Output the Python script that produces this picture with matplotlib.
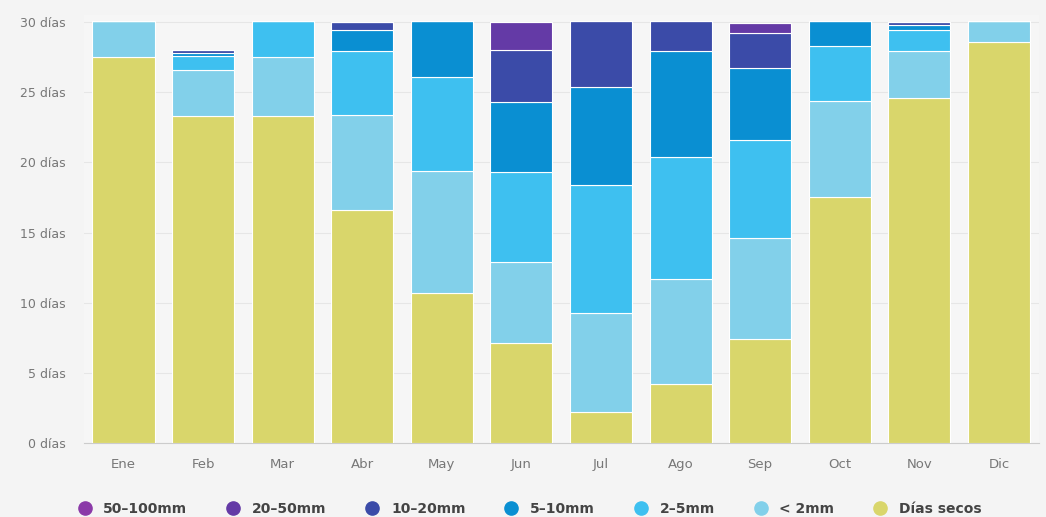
import matplotlib.pyplot as plt
import numpy as np
from matplotlib.lines import Line2D

meses = ['Ene', 'Feb', 'Mar', 'Abr', 'May', 'Jun', 'Jul', 'Ago', 'Sep', 'Oct', 'Nov', 'Dic']

# días por mes en cada clase de precipitación (de abajo a arriba)
dias_secos = [27.5, 23.3, 23.3, 16.6, 10.7, 7.1, 2.2, 4.2, 7.4, 17.5, 24.6, 28.6]
menos_2mm = [2.6, 3.3, 4.2, 6.8, 8.7, 5.8, 7.1, 7.5, 7.2, 6.9, 3.3, 1.5]
mm_2_5 = [0.0, 1.0, 2.6, 4.5, 6.7, 6.4, 9.1, 8.7, 7.0, 3.9, 1.5, 0.0]
mm_5_10 = [0.0, 0.2, 0.0, 1.5, 4.0, 5.0, 7.0, 7.5, 5.1, 1.8, 0.4, 0.0]
mm_10_20 = [0.0, 0.2, 0.0, 0.6, 0.0, 3.7, 4.7, 2.2, 2.5, 0.0, 0.2, 0.0]
mm_20_50 = [0.0, 0.0, 0.0, 0.0, 0.0, 2.0, 0.0, 0.0, 0.7, 0.0, 0.0, 0.0]
mm_50_100 = [0.0, 0.0, 0.0, 0.0, 0.0, 0.0, 0.0, 0.0, 0.0, 0.0, 0.0, 0.0]

series = [
    ('Días secos', dias_secos, '#d9d66b'),
    ('< 2mm', menos_2mm, '#82d0ea'),
    ('2–5mm', mm_2_5, '#3ec0f0'),
    ('5–10mm', mm_5_10, '#0a8fd2'),
    ('10–20mm', mm_10_20, '#3b4ba8'),
    ('20–50mm', mm_20_50, '#643aa6'),
    ('50–100mm', mm_50_100, '#8b3aa8'),
]

fig = plt.figure(figsize=(10.46, 5.17), dpi=100, facecolor='#f4f4f4')
ax = fig.add_axes([0.080, 0.143, 0.913, 0.828])
ax.set_facecolor('#f6f6f6')

x = np.arange(len(meses))
bottom = np.zeros(len(meses))
for nombre, valores, color in series:
    ax.bar(x, valores, bottom=bottom, width=0.78, color=color,
           edgecolor='white', linewidth=0.8, zorder=3)
    bottom += np.array(valores)

ax.set_xlim(-0.5, len(meses) - 0.5)
ax.set_ylim(0, 30.5)
ax.set_yticks(range(0, 31, 5))
ax.set_yticklabels([f'{v} días' for v in range(0, 31, 5)], color='#777777', fontsize=9)
ax.set_xticks(x)
ax.set_xticklabels(meses, color='#777777', fontsize=9.5)
ax.tick_params(axis='y', length=0, pad=13)
ax.tick_params(axis='x', length=0, pad=11)
ax.yaxis.grid(True, color='#e6e6e6', linewidth=0.8, zorder=0)

for lado in ['top', 'right', 'left']:
    ax.spines[lado].set_visible(False)
ax.spines['bottom'].set_color('#cccccc')

# leyenda con marcadores circulares, de mayor a menor intensidad
handles = [Line2D([0], [0], marker='o', linestyle='', markersize=9.5,
                  markerfacecolor=c, markeredgecolor=c, label=n)
           for n, v, c in reversed(series)]
fig.legend(handles=handles, loc='lower center', bbox_to_anchor=(0.503, -0.022),
           ncol=7, frameon=False, handletextpad=0.35, columnspacing=2.3,
           prop={'weight': 'bold', 'size': 10}, labelcolor='#444444')

fig.savefig('out.png', dpi=100, facecolor=fig.get_facecolor())
